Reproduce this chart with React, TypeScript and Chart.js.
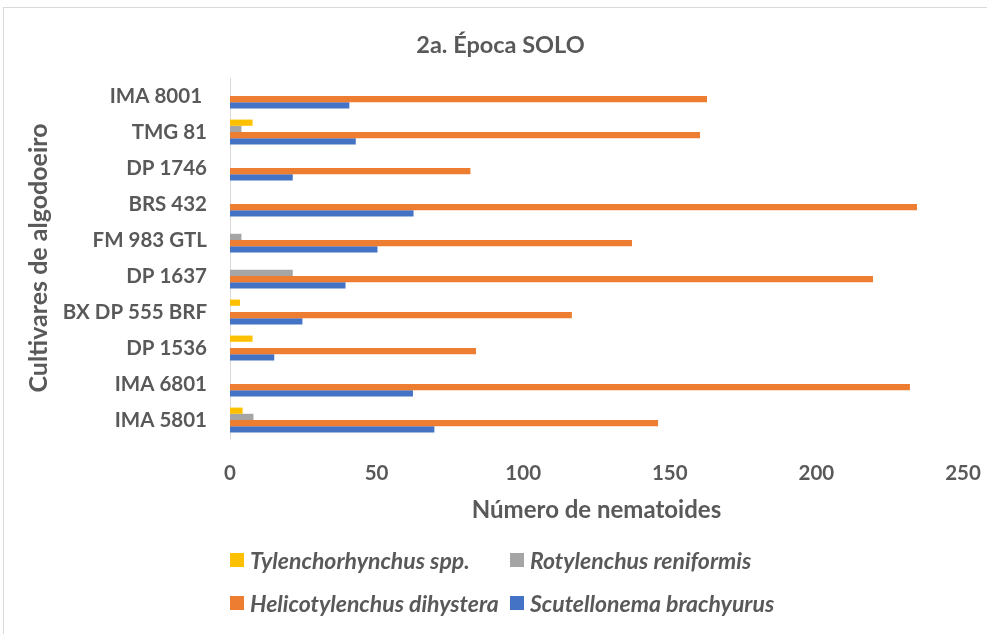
import React, { useEffect, useRef } from "react";
import { Chart, registerables } from "chart.js";

Chart.register(...registerables);

const categories = ["IMA 8001 ", "TMG 81", "DP 1746", "BRS 432", "FM 983 GTL", "DP 1637", "BX DP 555 BRF", "DP 1536", "IMA 6801", "IMA 5801"];
const tylenchorhynchus = [0, 7.7, 0, 0, 0, 0, 3.4, 7.7, 0, 4.3];
const rotylenchus = [0, 3.9, 0, 0, 3.9, 21.4, 0, 0, 0, 8.0];
const helicotylenchus = [162.7, 160.3, 82, 234.3, 137.1, 219.3, 116.6, 83.9, 231.9, 146];
const scutellonema = [40.7, 42.9, 21.4, 62.6, 50.3, 39.4, 24.7, 15.1, 62.4, 69.7];
const seriesNames = ["Tylenchorhynchus spp.", "Rotylenchus reniformis", "Helicotylenchus dihystera", "Scutellonema brachyurus"];
const seriesColors = ["#FFC000", "#A5A5A5", "#ED7D31", "#4472C4"];
const xMin = 0;
const xMax = 250;
const xStep = 50;
const chartTitle = "2a. Época SOLO";
const xTitle = "Número de nematoides";
const yTitle = "Cultivares de algodoeiro";

const TEXT = "#595959";
const FONT = "Lato";

export default function App() {
  const ref = useRef<HTMLCanvasElement | null>(null);

  useEffect(() => {
    if (!ref.current) return;
    const values = [tylenchorhynchus, rotylenchus, helicotylenchus, scutellonema];
    const chart = new Chart(ref.current, {
      type: "bar",
      data: {
        labels: categories,
        datasets: values.map((v, i) => ({
          label: seriesNames[i],
          data: v,
          backgroundColor: seriesColors[i],
          borderWidth: 0,
          categoryPercentage: 0.69,
          barPercentage: 1,
        })),
      },
      options: {
        indexAxis: "y",
        animation: false,
        responsive: false,
        maintainAspectRatio: false,
        layout: { padding: { left: 38, right: 24, top: 0, bottom: 0 } },
        plugins: {
          legend: { display: false },
          tooltip: { enabled: false },
          title: {
            display: true,
            text: chartTitle,
            color: TEXT,
            font: { family: FONT, size: 23.5, weight: "bold", lineHeight: 1.2 },
            padding: { top: 30.9, bottom: 18.9 },
          },
        },
        scales: {
          x: {
            min: xMin,
            max: xMax,
            ticks: {
              stepSize: xStep,
              color: TEXT,
              padding: 23,
              font: { family: FONT, size: 20.5, weight: "bold", lineHeight: 1.2 },
            },
            grid: { display: false, drawTicks: false },
            border: { display: false },
            title: {
              display: true,
              text: xTitle,
              color: TEXT,
              font: { family: FONT, size: 24, weight: "bold", lineHeight: 1.2 },
              padding: { top: 0, bottom: 109.6 },
            },
            afterFit: (s: any) => {
              s.height = 196;
              s.paddingLeft = 0;
              s.paddingRight = 0;
            },
          },
          y: {
            ticks: {
              color: TEXT,
              padding: 23,
              font: { family: FONT, size: 20.5, weight: "bold", lineHeight: 1.2 },
            },
            grid: { display: false, drawTicks: false },
            border: { display: true, color: "#D9D9D9", width: 1 },
            title: {
              display: true,
              text: yTitle,
              color: TEXT,
              font: { family: FONT, size: 25, weight: "bold", lineHeight: 1.2 },
              padding: { top: -14, bottom: 0 },
            },
            afterFit: (s: any) => {
              s.width = 192;
              s.paddingTop = 0;
              s.paddingBottom = 0;
            },
          },
        },
      },
    });
    return () => chart.destroy();
  }, []);

  const legendCols = [230, 510];
  const legendRows = [560, 603];

  return (
    <div style={{ position: "fixed", left: 0, top: 0, width: 987, height: 634, overflow: "hidden", background: "#fff" }}>
      <div style={{ position: "absolute", left: 3, top: 7, width: 1100, height: 800, borderLeft: "1px solid #D9D9D9", borderTop: "1px solid #D9D9D9" }} />
      <canvas ref={ref} width={987} height={634} style={{ position: "absolute", left: 0, top: 0, width: 987, height: 634 }} />
      {seriesNames.map((name, i) => {
        const col = legendCols[i % 2];
        const row = legendRows[Math.floor(i / 2)];
        return (
          <React.Fragment key={name}>
            <div style={{ position: "absolute", left: col, top: row - 7, width: 14, height: 14, background: seriesColors[i] }} />
            <div
              style={{
                position: "absolute",
                left: col + 20,
                top: row - 14,
                height: 28,
                lineHeight: "28px",
                fontFamily: FONT,
                fontStyle: "italic",
                fontWeight: "bold",
                fontSize: 23,
                color: TEXT,
                whiteSpace: "nowrap",
              }}
            >
              {name}
            </div>
          </React.Fragment>
        );
      })}
    </div>
  );
}
